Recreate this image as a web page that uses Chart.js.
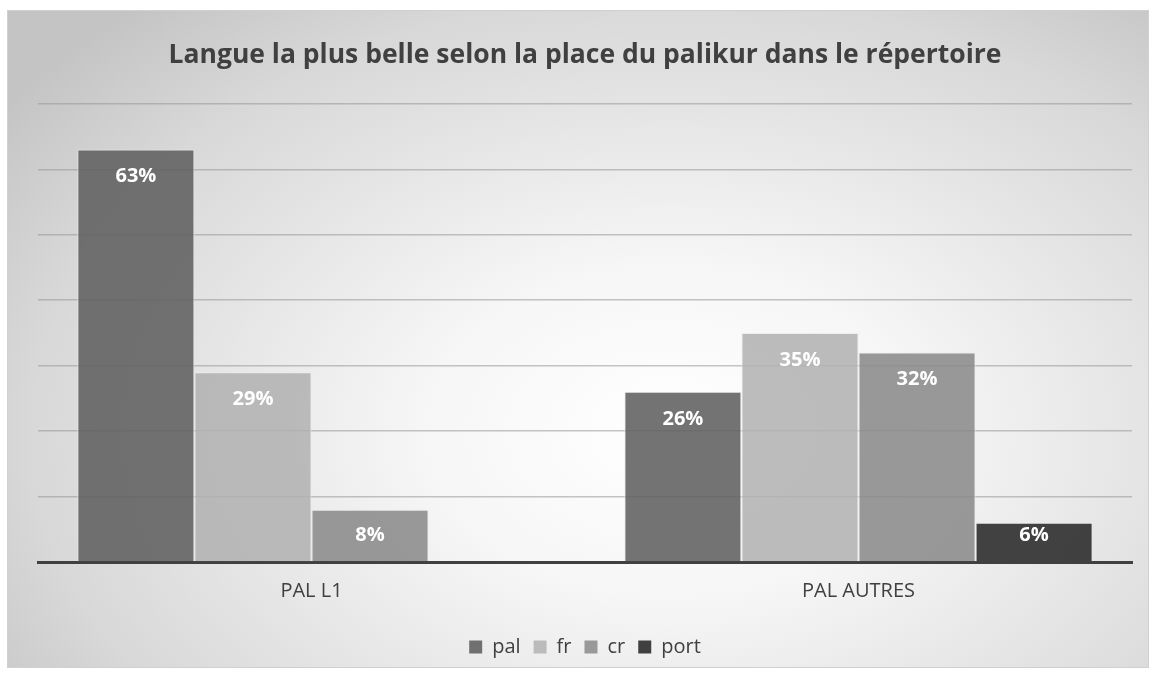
<!DOCTYPE html>
<html>
<head>
    <title>Langue la plus belle</title>
    <script src="https://cdn.jsdelivr.net/npm/chart.js"></script>
    <style>
        body {
            margin: 0;
            background: #ffffff;
            font-family: "Open Sans", sans-serif;
        }
        .chart-box {
            position: absolute;
            left: 7px;
            top: 10px;
            width: 1140px;
            height: 656px;
            border: 1px solid #d0d0d0;
            background: radial-gradient(ellipse 72% 85% at 58% 64%, #ffffff 0%, #f6f6f6 30%, #d8d8d8 78%, #c4c4c4 100%);
        }
        canvas {
            width: 100%;
            height: 100%;
        }
    </style>
</head>
<body>
    <div class="chart-box">
        <canvas id="chart"></canvas>
    </div>

    <script>
        // chart data
        const categories = ['PAL L1', 'PAL AUTRES'];
        const seriesNames = ['pal', 'fr', 'cr', 'port'];
        const palValues = [63, 26];
        const frValues = [29, 35];
        const crValues = [8, 32];
        const portValues = [null, 6];
        const yTicks = [0, 10, 20, 30, 40, 50, 60, 70];

        const colors = [
            'rgba(96,96,96,0.88)',
            'rgba(176,176,176,0.85)',
            'rgba(138,138,138,0.87)',
            'rgba(50,50,50,0.92)'
        ];
        const legendColors = ['#707070', '#bbbbbb', '#999999', '#404040'];

        // white value labels near the top of each bar (inside end)
        const valueLabels = {
            id: 'valueLabels',
            afterDatasetsDraw(chart) {
                const ctx = chart.ctx;
                ctx.save();
                ctx.font = 'bold 20px "Open Sans", sans-serif';
                ctx.fillStyle = '#ffffff';
                ctx.textAlign = 'center';
                ctx.textBaseline = 'middle';
                chart.data.datasets.forEach((ds, i) => {
                    const meta = chart.getDatasetMeta(i);
                    meta.data.forEach((bar, j) => {
                        const v = ds.data[j];
                        if (v === null) return;
                        // short bars: keep the label inside the bar
                        const off = Math.min(27, (bar.base - bar.y) - 26);
                        ctx.fillText(v + '%', bar.x, bar.y + off);
                    });
                });
                ctx.restore();
            }
        };

        const allValues = [palValues, frValues, crValues, portValues];

        new Chart(document.getElementById('chart'), {
            type: 'bar',
            data: {
                labels: categories,
                datasets: seriesNames.map((name, i) => ({
                    label: name,
                    data: allValues[i],
                    backgroundColor: colors[i],
                    borderColor: 'rgba(235,235,235,0.9)',
                    borderWidth: 1,
                    categoryPercentage: 0.856,
                    barPercentage: 1.0
                }))
            },
            options: {
                responsive: true,
                maintainAspectRatio: false,
                animation: false,
                layout: {
                    padding: { left: 30, right: 16, top: 0, bottom: 0 }
                },
                plugins: {
                    title: {
                        display: true,
                        text: 'Langue la plus belle selon la place du palikur dans le répertoire',
                        color: '#404040',
                        font: { family: '"Open Sans", sans-serif', size: 26.5, weight: 'bold' },
                        padding: { top: 29, bottom: 32 }
                    },
                    legend: {
                        position: 'bottom',
                        labels: {
                            color: '#404040',
                            font: { family: '"Open Sans", sans-serif', size: 20 },
                            boxWidth: 13,
                            boxHeight: 13,
                            padding: 13,
                            generateLabels(chart) {
                                return seriesNames.map((name, i) => ({
                                    text: name,
                                    fillStyle: legendColors[i],
                                    strokeStyle: legendColors[i],
                                    lineWidth: 0,
                                    fontColor: '#404040',
                                    datasetIndex: i
                                }));
                            }
                        }
                    },
                    tooltip: { enabled: false }
                },
                scales: {
                    x: {
                        grid: { display: false },
                        border: { color: '#404040', width: 3 },
                        ticks: {
                            color: '#404040',
                            font: { family: '"Open Sans", sans-serif', size: 20 },
                            padding: 9
                        },
                        afterFit(scale) {
                            scale.height += 12;
                        }
                    },
                    y: {
                        min: yTicks[0],
                        max: yTicks[yTicks.length - 1],
                        afterBuildTicks(axis) {
                            axis.ticks = yTicks.map(v => ({ value: v }));
                        },
                        ticks: { display: false },
                        border: { display: false },
                        grid: { color: 'rgba(150,150,150,0.55)', lineWidth: 1.5, drawTicks: false }
                    }
                }
            },
            plugins: [valueLabels]
        });
    </script>
</body>
</html>
